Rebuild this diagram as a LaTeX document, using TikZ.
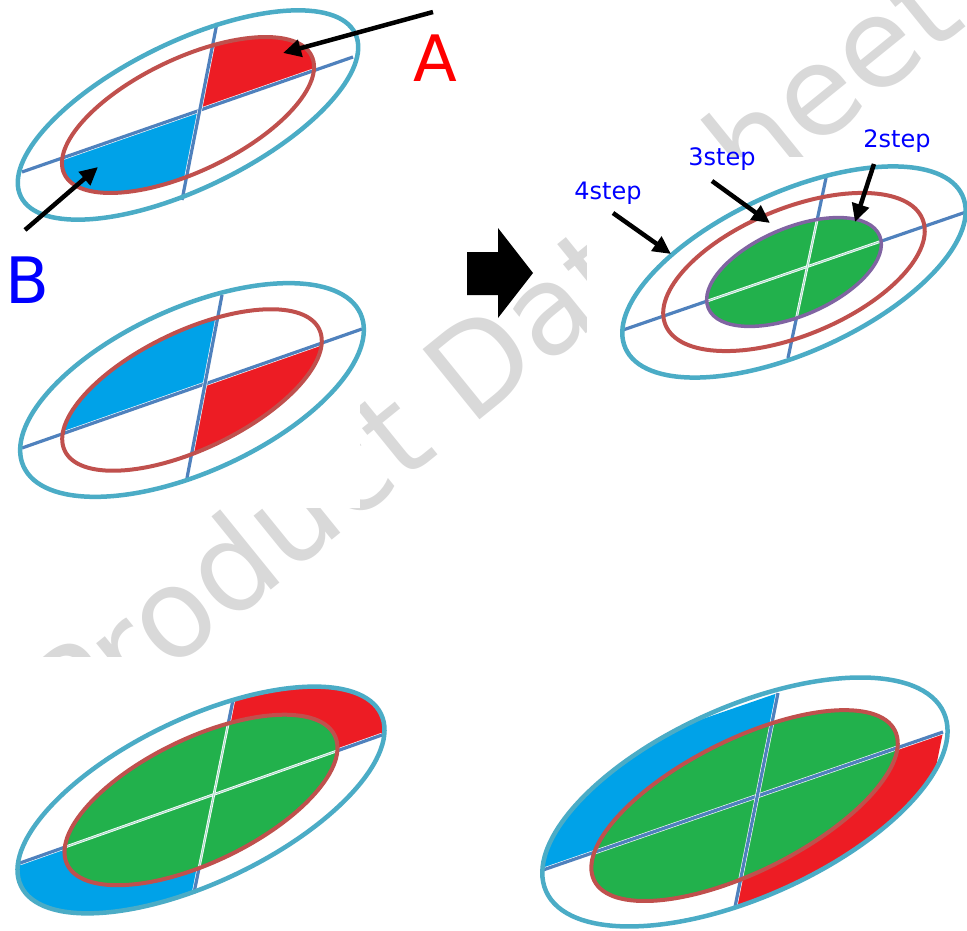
\documentclass[tikz,border=0pt]{standalone}
\usepackage{fontspec}
\setmainfont{DejaVu Sans}
\usetikzlibrary{calc,arrows.meta}
\definecolor{ringcyan}{HTML}{4BACC6}
\definecolor{ringred}{HTML}{C0504D}
\definecolor{ringpurple}{HTML}{8064A2}
\definecolor{axisblue}{HTML}{4F81BD}
\definecolor{paleaxis}{HTML}{A8D8C8}
\definecolor{fillgreen}{HTML}{22B14C}
\definecolor{fillred}{HTML}{ED1C24}
\definecolor{fillblue}{HTML}{00A2E8}
\definecolor{markgray}{HTML}{D9D9D9}

\begin{document}
\begin{tikzpicture}[x=1pt,y=-1pt]
        \tikzstyle{outer} = [draw=ringcyan, line width=4.5pt]
        \tikzstyle{inner} = [draw=ringred, line width=4pt]
        \tikzstyle{core} = [draw=ringpurple, line width=3.5pt]
        \tikzstyle{axis} = [draw=white, line width=0.6pt, double=axisblue, double distance=3.2pt]
        \tikzstyle{faint} = [draw=white, line width=0.8pt, double=paleaxis, double distance=1pt]
        \tikzstyle{pointer} = [-{Triangle[length=18pt,width=17pt]}, line width=4.5pt]
        \tikzstyle{biglbl} = [font=\fontsize{64}{64}\selectfont, anchor=base, inner sep=0pt]
        \tikzstyle{steplbl} = [text=blue, font=\fontsize{24}{24}\selectfont, anchor=base, inner sep=0pt]

        \useasboundingbox (0,0) rectangle (967,931);

        % watermark, partly hidden by the pictures
        \node[text=markgray, font=\fontsize{124}{124}\selectfont, rotate=39, anchor=base west, inner sep=0pt] (mark) at (74,749) {Product Datasheet};
        \fill[white] (0,283) rectangle (360,508);
        \fill[white] (587,157) rectangle (967,420);
        \fill[white] (0,657) rectangle (967,931);

        % top left: A and B
        \coordinate (c1) at (188,115);
        \coordinate (w1) at (22,172);  \coordinate (e1) at (353,57);
        \coordinate (n1) at (217,23);  \coordinate (s1) at (182,200);
        \coordinate (o1) at (intersection of w1--e1 and n1--s1);
        \begin{scope}
          \clip[rotate around={25.5:(c1)}] (c1) ellipse [x radius=137, y radius=56.5];
          \fill[fillred] (o1) -- (n1) -- ($(n1)+(e1)-(o1)$) -- (e1) -- cycle;
          \fill[fillblue] (o1) -- (s1) -- ($(s1)+(w1)-(o1)$) -- (w1) -- cycle;
        \end{scope}
        \draw[axis] (w1) -- (e1);
        \draw[axis] (n1) -- (s1);
        \draw[outer, rotate around={26:(c1)}] (c1) ellipse [x radius=186, y radius=73];
        \draw[inner, rotate around={25.5:(c1)}] (c1) ellipse [x radius=137, y radius=56.5];

        % middle left
        \coordinate (c2) at (192,390);
        \coordinate (w2) at (22,448);  \coordinate (e2) at (362,329);
        \coordinate (n2) at (222,295); \coordinate (s2) at (187,478);
        \coordinate (o2) at (intersection of w2--e2 and n2--s2);
        \begin{scope}
          \clip[rotate around={25.5:(c2)}] (c2) ellipse [x radius=141, y radius=59];
          \fill[fillblue] (o2) -- (n2) -- ($(n2)+(w2)-(o2)$) -- (w2) -- cycle;
          \fill[fillred] (o2) -- (s2) -- ($(s2)+(e2)-(o2)$) -- (e2) -- cycle;
        \end{scope}
        \draw[axis] (w2) -- (e2);
        \draw[axis] (n2) -- (s2);
        \draw[outer, rotate around={24.4:(c2)}] (c2) ellipse [x radius=185, y radius=82];
        \draw[inner, rotate around={25.5:(c2)}] (c2) ellipse [x radius=141, y radius=59];

        % arrow to the right
        \fill (467,252) -- (498,252) -- (498,228) -- (533,273) -- (498,318) -- (498,295) -- (467,295) -- cycle;

        % top right: steps
        \coordinate (c3) at (794,272);
        \coordinate (w3) at (623,330); \coordinate (e3) at (966,212);
        \coordinate (n3) at (826,178); \coordinate (s3) at (788,358);
        \draw[axis] (w3) -- (e3);
        \draw[axis] (n3) -- (s3);
        \begin{scope}
          \clip[rotate around={23:(c3)}] (c3) ellipse [x radius=93, y radius=44];
          \fill[fillgreen] (c3) circle (120);
          \draw[faint] (w3) -- (e3);
          \draw[faint] (n3) -- (s3);
        \end{scope}
        \draw[outer, rotate around={24.4:(c3)}] (c3) ellipse [x radius=185, y radius=80];
        \draw[inner, rotate around={22.4:(c3)}] (c3) ellipse [x radius=139, y radius=63.5];
        \draw[core, rotate around={23:(c3)}] (c3) ellipse [x radius=93, y radius=44];

        % bottom left
        \coordinate (c4) at (201,800);
        \coordinate (w4) at (20,863);  \coordinate (e4) at (382,735);
        \coordinate (n4) at (233,700); \coordinate (s4) at (194,893);
        \coordinate (o4) at (intersection of w4--e4 and n4--s4);
        \begin{scope}
          \clip[rotate around={25.5:(c4)}] (c4) ellipse [x radius=199.5, y radius=82];
          \fill[fillred] (o4) -- (n4) -- ($(n4)+(e4)-(o4)$) -- (e4) -- cycle;
          \fill[fillblue] (o4) -- (s4) -- ($(s4)+(w4)-(o4)$) -- (w4) -- cycle;
        \end{scope}
        \draw[axis] (w4) -- (e4);
        \draw[axis] (n4) -- (s4);
        \begin{scope}
          \clip[rotate around={25.7:(c4)}] (c4) ellipse [x radius=148.5, y radius=62];
          \fill[fillgreen] (c4) circle (200);
          \draw[faint] (w4) -- (e4);
          \draw[faint] (n4) -- (s4);
        \end{scope}
        \draw[outer, rotate around={25.5:(c4)}] (c4) ellipse [x radius=199.5, y radius=82];
        \draw[inner, rotate around={25.7:(c4)}] (c4) ellipse [x radius=148.5, y radius=62];

        % bottom right
        \coordinate (c5) at (745,802);
        \coordinate (w5) at (543,870); \coordinate (e5) at (943,732);
        \coordinate (n5) at (778,693); \coordinate (s5) at (735,907);
        \coordinate (o5) at (intersection of w5--e5 and n5--s5);
        \begin{scope}
          \clip[rotate around={24.2:(c5)}] (c5) ellipse [x radius=218, y radius=95];
          \fill[fillblue] (o5) -- (n5) -- ($(n5)+(w5)-(o5)$) -- (w5) -- cycle;
          \fill[fillred] (o5) -- (s5) -- ($(s5)+(e5)-(o5)$) -- (e5) -- cycle;
        \end{scope}
        \fill[fillgreen, rotate around={26.5:(c5)}] (743,805) ellipse [x radius=168, y radius=66];
        \draw[axis] (w5) -- (e5);
        \draw[axis] (n5) -- (s5);
        \draw[outer, rotate around={24.2:(c5)}] (c5) ellipse [x radius=218, y radius=95];
        \draw[inner, rotate around={26.5:(c5)}] (743,805) ellipse [x radius=168, y radius=66];

        % labels and pointers
        \node[biglbl, text=red] (A) at (435,82) {A};
        \node[biglbl, text=blue] (B) at (27,303) {B};
        \node[steplbl] (st4) at (608,200) {4step};
        \node[steplbl] (st3) at (722,166) {3step};
        \node[steplbl] (st2) at (897,148) {2step};
        \coordinate (tailA) at (433,12);  \coordinate (tipA) at (283,53);
        \coordinate (tailB) at (25,230);  \coordinate (tipB) at (98,167);
        \coordinate (tail4) at (613,213); \coordinate (tip4) at (671,254);
        \coordinate (tail3) at (712,181); \coordinate (tip3) at (770,223);
        \coordinate (tail2) at (874,164); \coordinate (tip2) at (855,222);
        \draw[pointer] (tailA) -- (tipA);
        \draw[pointer] (tailB) -- (tipB);
        \draw[pointer] (tail4) -- (tip4);
        \draw[pointer] (tail3) -- (tip3);
        \draw[pointer] (tail2) -- (tip2);
\end{tikzpicture}
\end{document}
